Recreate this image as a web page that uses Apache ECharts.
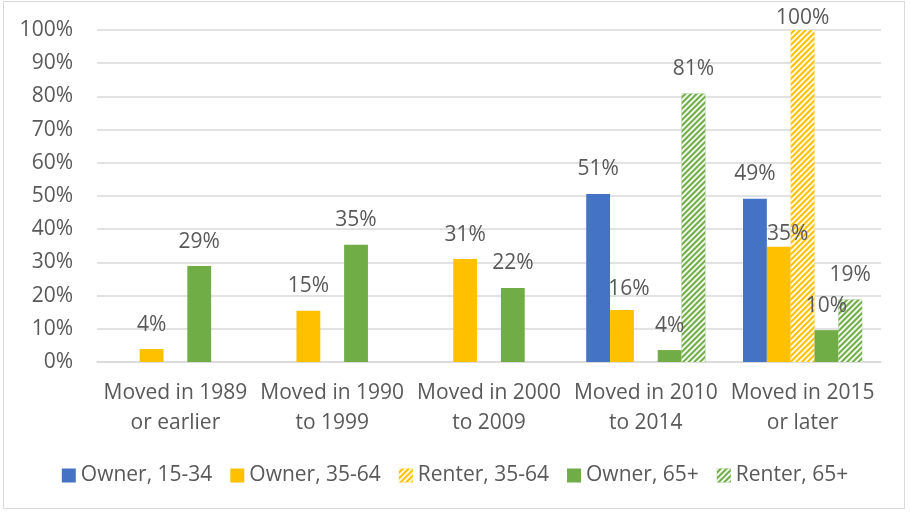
<!DOCTYPE html>
<html><head><meta charset="utf-8">
<script src="https://cdn.jsdelivr.net/npm/echarts@6/dist/echarts.min.js"></script>
<style>
html,body{margin:0;padding:0;background:#fff;}
#frame{position:absolute;left:3px;top:1px;width:902px;height:508px;border:1px solid #d9d9d9;box-sizing:border-box;}
#chart{position:absolute;left:0;top:0;width:910px;height:512px;}
</style></head>
<body><div id="frame"></div><div id="chart"></div>
<script>
const categories = ['Moved in 1989\nor earlier','Moved in 1990\nto 1999','Moved in 2000\nto 2009','Moved in 2010\nto 2014','Moved in 2015\nor later'];
const seriesNames = ['Owner, 15-34','Owner, 35-64','Renter, 35-64','Owner, 65+','Renter, 65+'];
const owner1534 = [null, null, null, 50.6, 49.2];
const owner3564 = [3.9, 15.4, 31.0, 15.7, 34.7];
const renter3564 = [null, null, null, null, 100];
const owner65 = [28.9, 35.3, 22.3, 3.6, 9.6];
const renter65 = [null, null, null, 80.9, 18.8];
const yTicks = [0,10,20,30,40,50,60,70,80,90,100];

const FONT = 'Open Sans';
const TXT = '#595959';
const FS = 21;
const colors = ['#4472C4','#FFC000','#FFC000','#70AD47','#70AD47'];
const values = [owner1534, owner3564, renter3564, owner65, renter65];
const hatched = [false,false,true,false,true];
const yMax = yTicks[yTicks.length-1];
function hatch(){ return {symbol:'rect', symbolSize:1, dashArrayX:[1,0], dashArrayY:[1.5,1.5], rotation:-Math.PI/4, color:'rgba(255,255,255,0.9)'}; }
// label nudges mimicking the reference's overlap avoidance: [series, category, dx, distance]
const nudges = [[1,3,7,10],[1,4,9,2]];

function buildData(si){
  return values[si].map((v,ci)=>{
    if (v == null) return v;
    if (v >= yMax) return {value:v, label:{distance:1}};
    const n = nudges.find(q=>q[0]===si && q[1]===ci);
    if (n) return {value:v, label:{offset:[n[2],0], distance:n[3]}};
    return v;
  });
}

const chart = echarts.init(document.getElementById('chart'));
chart.setOption({
  animation:false,
  grid:{left:97, right:29, top:30, bottom:150},
  legend:{
    bottom:21, left:'center', icon:'rect', itemWidth:14, itemHeight:14, itemGap:18,
    textStyle:{fontFamily:FONT, fontSize:FS, color:TXT},
    data:seriesNames
  },
  xAxis:{
    type:'category', data:categories,
    axisLine:{lineStyle:{color:'#d9d9d9', width:1.5}},
    axisTick:{show:false},
    axisLabel:{interval:0, fontFamily:FONT, fontSize:FS, color:TXT, lineHeight:30, margin:16}
  },
  yAxis:{
    type:'value', min:yTicks[0], max:yMax, interval:10,
    axisLine:{show:false}, axisTick:{show:false},
    splitLine:{lineStyle:{color:'#d9d9d9', width:1.5}},
    axisLabel:{fontFamily:FONT, fontSize:FS, color:TXT, margin:24, formatter:v=>v+'%'}
  },
  series: seriesNames.map((name,i)=>{
    const itemStyle = {color:colors[i]};
    if (hatched[i]) itemStyle.decal = hatch();
    return {
      name, type:'bar', data:buildData(i), barGap:'0%', barCategoryGap:'24%',
      itemStyle,
      label:{show:true, position:'top', distance:14, fontFamily:FONT, fontSize:FS, color:TXT,
        formatter:p=> p.value==null ? '' : Math.round(p.value)+'%'}
    };
  })
});
</script></body></html>
